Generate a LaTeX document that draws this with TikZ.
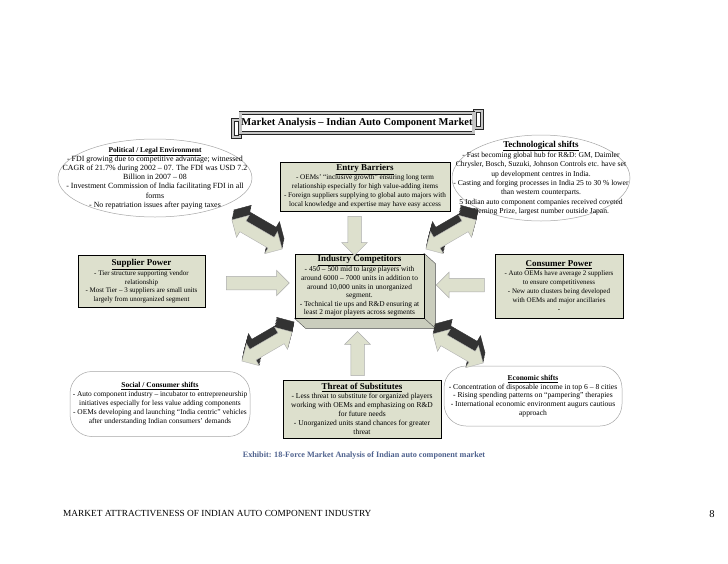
\documentclass[tikz,border=0pt]{standalone}
\usepackage{fontspec}
\setmainfont{Liberation Serif}
\usetikzlibrary{shapes.arrows, shapes.geometric, backgrounds, calc}

\definecolor{boxfill}{RGB}{221,224,205}
\definecolor{capblue}{RGB}{79,98,142}

\newcommand{\forcehead}[2]{{\fontsize{#1}{#1}\selectfont\underline{\textbf{#2}}}}

\begin{document}
\begin{tikzpicture}[x=1pt,y=-1pt,
    forcebox/.style={draw=black, line width=0.8pt, fill=boxfill, align=center, inner sep=1pt},
    ovalline/.style={draw=gray!70, line width=0.5pt, inner sep=0pt},
    ovaltext/.style={align=center, inner sep=0pt},
    fs/.style 2 args={font=\fontsize{#1}{#2}\selectfont},
    banner/.style={draw=gray!30!black, double=gray!45, double distance=2.4pt, fill=white,
        minimum width=233, minimum height=20, inner sep=0pt, font=\fontsize{10.5}{12}\selectfont\bfseries},
    flatarrow/.style={single arrow, draw=gray!65, fill=boxfill, line width=0.5pt, inner sep=6.5pt,
        single arrow head extend=6pt, sloped, allow upside down},
    deepside/.style={double arrow, fill=gray!40!black, draw=gray!40!black, line width=0.4pt, inner sep=6pt,
        double arrow head extend=6.5pt, minimum height=58, sloped, allow upside down},
    deepface/.style={deepside, fill=boxfill, draw=gray!60}]

    \begin{pgfonlayer}{background}
        \fill[white] (0,0) rectangle (728,563);
    \end{pgfonlayer}
    \useasboundingbox (0,0) rectangle (728,563);

    % title
    \node[banner] (title) at (357,123) {Market Analysis – Indian Auto Component Market};
    \begin{scope}[on background layer]
        \filldraw[fill=gray!45, draw=gray!30!black] ($(title.south west)+(-9,-15)$) rectangle ($(title.south west)+(1,5)$);
        \filldraw[fill=white, draw=gray!30!black] ($(title.south west)+(-6,-12)$) rectangle ($(title.south west)+(-2,2)$);
        \filldraw[fill=gray!45, draw=gray!30!black] ($(title.north east)+(-1,-4)$) rectangle ($(title.north east)+(9,16)$);
        \filldraw[fill=white, draw=gray!30!black] ($(title.north east)+(2,-1)$) rectangle ($(title.north east)+(6,13)$);
    \end{scope}

    % outer forces (ovals)
    \node[ovalline, ellipse, minimum width=194, minimum height=78] (polOval) at (155,178) {};
    \node[ovaltext, fs={7.9}{9.2}] (pol) at (polOval) {\forcehead{7.4}{Political / Legal Environment}\\
        - FDI growing due to competitive advantage; witnessed\\
        CAGR of 21.7\% during 2002 – 07. The FDI was USD 7.2\\
        Billion in 2007 – 08\\
        - Investment Commission of India facilitating FDI in all\\
        forms\\
        - No repatriation issues after paying taxes};

    \node[ovalline, ellipse, minimum width=178, minimum height=86] (techOval) at (541,178) {};
    \node[ovaltext, fs={7.6}{9.3}] (tech) at (techOval) {\forcehead{9}{Technological shifts}\\
        - Fast becoming global hub for R\&D: GM, Daimler\\
        Chrysler, Bosch, Suzuki, Johnson Controls etc. have set\\
        up development centres in India.\\
        - Casting and forging processes in India 25 to 30 \% lower\\
        than western counterparts.\\
        5 Indian auto component companies received coveted\\
        Deming Prize, largest number outside Japan.};

    \node[ovalline, ovaltext, rounded corners=22pt, minimum width=180, minimum height=65, fs={7.4}{9}] (soc) at (160,404) {\forcehead{7.5}{Social / Consumer shifts}\\
        - Auto component industry – incubator to entrepreneurship\\
        initiatives especially for less value adding components\\
        - OEMs developing and launching “India centric” vehicles\\
        after understanding Indian consumers’ demands};

    \node[ovalline, ovaltext, rounded corners=22pt, minimum width=178, minimum height=60, fs={7.6}{8.8}] (econ) at (533,396) {\forcehead{7.5}{Economic shifts}\\
        - Concentration of disposable income in top 6 – 8 cities\\
        - Rising spending patterns on “pampering” therapies\\
        - International economic environment augurs cautious\\
        approach};

    % inner forces (boxes)
    \node[forcebox, minimum width=170, minimum height=49, fs={7.2}{9}] (entry) at (365,186.5) {\forcehead{9}{Entry Barriers}\\
        - OEMs’ “inclusive growth” ensuring long term\\
        relationship especially for high value-adding items\\
        - Foreign suppliers supplying to global auto majors with\\
        local knowledge and expertise may have easy access};

    \node[forcebox, minimum width=127, minimum height=52, fs={7}{8.5}] (sup) at (141.5,281) {\forcehead{9}{Supplier Power}\\
        - Tier structure supporting vendor\\
        relationship\\
        - Most Tier – 3 suppliers are small units\\
        largely from unorganized segment};

    \node[forcebox, minimum width=129, minimum height=64, fs={7.4}{8.6}] (comp) at (359.5,286) {\forcehead{9}{Industry Competitors}\\
        - 450 – 500 mid to large players with\\
        around 6000 – 7000 units in addition to\\
        around 10,000 units in unorganized\\
        segment.\\
        - Technical tie ups and R\&D ensuring at\\
        least 2 major players across segments};
    \begin{scope}[on background layer]
        \filldraw[fill=boxfill!80!gray, draw=gray!60!black, line width=0.4pt] (comp.north east) -- ++(11,10) -- ($(comp.south east)+(11,10)$) -- ($(comp.south west)+(11,10)$) -- (comp.south west) -- cycle;
        \draw[gray!60!black, line width=0.4pt] (comp.south east) -- ++(11,10);
    \end{scope}

    \node[forcebox, minimum width=128, minimum height=64, fs={7}{9}] (cons) at (559,286) {\forcehead{9}{Consumer Power}\\
        - Auto OEMs have average 2 suppliers\\
        to ensure competitiveness\\
        - New auto clusters being developed\\
        with OEMs and major ancillaries\\
        -};

    \node[forcebox, minimum width=158, minimum height=58, fs={7.5}{9}] (threat) at (362,409) {\forcehead{9}{Threat of Substitutes}\\
        - Less threat to substitute for organized players\\
        working with OEMs and emphasizing on R\&D\\
        for future needs\\
        - Unorganized units stand chances for greater\\
        threat};

    % arrows into the centre
    \coordinate (topIn) at ($(comp.north)+(-5,0)$);
    \coordinate (leftIn) at ($(comp.west)+(0,-3)$);
    \coordinate (rightIn) at ($(comp.east)+(0,-1)$);
    \coordinate (botIn) at ($(comp.south)+(-2,0)$);
    \path (topIn |- entry.south) -- node[flatarrow, pos=.5, minimum height=39] {} (topIn);
    \path (sup.east |- leftIn) -- node[flatarrow, pos=.55, minimum height=63] {} (leftIn);
    \path (cons.west |- rightIn) -- node[flatarrow, pos=.44, minimum height=48] {} (rightIn);
    \path (threat.north -| botIn) -- node[flatarrow, pos=.37, minimum height=44] {} (botIn);

    % two-way arrows on the diagonals
    \coordinate (tlA) at (232,220);  \coordinate (tlB) at (282,249);
    \coordinate (trA) at (426,249);  \coordinate (trB) at (476,220);
    \coordinate (blA) at (242,361);  \coordinate (blB) at (292,332);
    \coordinate (brA) at (433,334);  \coordinate (brB) at (483,363);
    \foreach \a/\b in {tlA/tlB, trA/trB, blA/blB, brA/brB} {
        \foreach \s in {1,0.85,0.7,0.55,0.4,0.25,0.1}
            \path ($(\a)+(2*\s,-10*\s)$) -- node[deepside] {} ($(\b)+(2*\s,-10*\s)$);
        \path (\a) -- node[deepface] {} (\b);
    }

    % caption and footer
    \node[font={\fontsize{8.2}{10}\selectfont\bfseries}, text=capblue] (exhibit) at (364,455) {Exhibit: 18-Force Market Analysis of Indian auto component market};
    \node[anchor=base west, inner sep=0pt, fs={9.3}{11}] (footer) at (63,516) {MARKET ATTRACTIVENESS OF INDIAN AUTO COMPONENT INDUSTRY};
    \node[anchor=base, inner sep=0pt, fs={10.5}{12}] (pagenum) at (712,517) {8};
\end{tikzpicture}
\end{document}
